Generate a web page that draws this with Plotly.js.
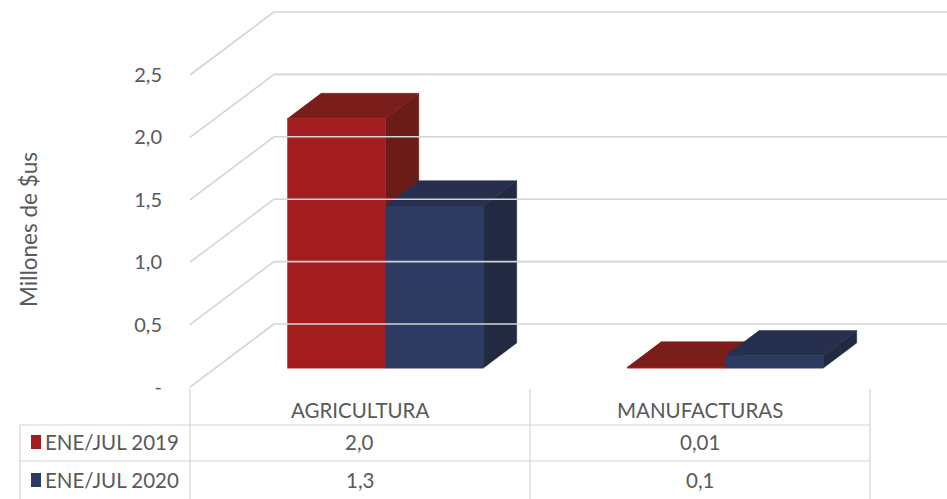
<!DOCTYPE html>
<html>
<head>
<meta charset="utf-8">
<script src="https://cdn.plot.ly/plotly-3.0.1.min.js"></script>
<style>html,body{margin:0;padding:0;background:#fff;}#chart{width:947px;height:499px;}</style>
</head>
<body>
<div id="chart"></div>
<script>
// ---- data ----
const categories = ['AGRICULTURA', 'MANUFACTURAS'];
const seriesNames = ['ENE/JUL 2019', 'ENE/JUL 2020'];
const values2019 = [2.0, 0.01];
const values2020 = [1.3, 0.1];
const labels2019 = ['2,0', '0,01'];
const labels2020 = ['1,3', '0,1'];
const yTickVals = [0, 0.5, 1.0, 1.5, 2.0, 2.5];
const yTickText = ['-', '0,5', '1,0', '1,5', '2,0', '2,5'];
const yTitle = 'Millones de $us';

// ---- style ----
const W = 947, H = 499;
const FONT = 'Lato, "Open Sans", sans-serif';
const TXT = '#595959';
const GRID = '#d4d4d4';
const colors = {
  front: ['#a31c20', '#2d3a62'],
  top:   ['#7b1d1a', '#262f4d'],
  side:  ['#6b1c18', '#222a42']
};
const XMIN = -1.0588, XMAX = 1.7265;   // axis range
const YMIN = -0.897, YMAX = 3.101;
const DX = 0.247, DY = 0.505;          // oblique depth offset (full depth)
const BW = 0.288;                      // bar width in category units
const D0 = 0.3, D1 = 0.7;              // bar depth span
const series = [values2019, values2020];
const seriesLabels = [labels2019, labels2020];

function P(x, y, d) { return [x + d * DX, y + d * DY]; }

function faces(s, kind) {
  const xs = [], ys = [];
  categories.forEach((c, i) => {
    const v = series[s][i];
    const xl = i - BW + s * BW, xr = xl + BW;
    let pts;
    if (kind === 'front') pts = [P(xl,0,D0), P(xr,0,D0), P(xr,v,D0), P(xl,v,D0)];
    else if (kind === 'top') pts = [P(xl,v,D0), P(xr,v,D0), P(xr,v,D1), P(xl,v,D1)];
    else pts = [P(xr,0,D0), P(xr,0,D1), P(xr,v,D1), P(xr,v,D0)];
    pts.forEach(p => { xs.push(p[0]); ys.push(p[1]); });
    xs.push(null); ys.push(null);
  });
  return {
    type: 'scatter', mode: 'lines', x: xs, y: ys, fill: 'toself',
    fillcolor: colors[kind][s], line: { color: colors[kind][s], width: 0.5 },
    hoverinfo: 'skip', showlegend: false, name: seriesNames[s]
  };
}

const traces = [];
[0, 1].forEach(s => { ['side', 'top', 'front'].forEach(k => traces.push(faces(s, k))); });

const shapes = [];
// walls / gridlines
const xf = -0.5;
yTickVals.forEach(t => {
  const a = P(xf, t, 0), b = P(xf, t, 1);
  shapes.push({ type: 'line', xref: 'x', yref: 'y', x0: a[0], y0: a[1], x1: b[0], y1: b[1], line: { color: GRID, width: 1.6 } });
  shapes.push({ type: 'line', xref: 'x', yref: 'y', x0: b[0], y0: b[1], x1: XMAX, y1: b[1], line: { color: GRID, width: 1.6 } });
});

// data table
const py = p => 1 - p / H;        // pixel row -> paper
const rowTop = 425, row2 = 461, tableLeft = 20;
const tableX = [xf, xf + 1, xf + 2];
tableX.forEach(x => shapes.push({ type: 'line', xref: 'x', yref: 'paper', x0: x, x1: x, y0: py(389), y1: py(H), line: { color: GRID, width: 1.2 } }));
shapes.push({ type: 'line', xref: 'paper', yref: 'paper', x0: tableLeft / W, x1: tableLeft / W, y0: py(rowTop), y1: py(H), line: { color: GRID, width: 1.2 } });
[rowTop, row2].forEach(r => shapes.push({ type: 'line', xref: 'paper', yref: 'paper', x0: tableLeft / W, x1: (190 + 2 * 340) / W, y0: py(r), y1: py(r), line: { color: GRID, width: 1.2 } }));

const TF = 20.5;
const annotations = [];
annotations.push({ xref: 'paper', yref: 'paper', x: 28 / W, y: py(230), textangle: -90, xanchor: 'center', yanchor: 'middle', text: yTitle, showarrow: false, font: { family: FONT, size: 22.5, color: TXT } });
categories.forEach((c, i) => annotations.push({ xref: 'x', yref: 'paper', x: i, y: py(410), yanchor: 'middle', text: c, showarrow: false, font: { family: FONT, size: TF, color: TXT } }));
const rowY = [442, 480];
seriesNames.forEach((n, s) => {
  shapes.push({ type: 'rect', xref: 'paper', yref: 'paper', x0: 31 / W, x1: 41 / W, y0: py(rowY[s] + 7), y1: py(rowY[s] - 7), fillcolor: colors.front[s], line: { width: 0 } });
  annotations.push({ xref: 'paper', yref: 'paper', x: 43 / W, y: py(rowY[s]), xanchor: 'left', yanchor: 'middle', text: n, showarrow: false, font: { family: FONT, size: TF, color: TXT } });
  categories.forEach((c, i) => annotations.push({ xref: 'x', yref: 'paper', x: i, y: py(rowY[s]), yanchor: 'middle', text: seriesLabels[s][i], showarrow: false, font: { family: FONT, size: TF, color: TXT } }));
});

const layout = {
  width: W, height: H,
  margin: { l: 0, r: 0, t: 0, b: 0 },
  paper_bgcolor: '#fff', plot_bgcolor: '#fff',
  showlegend: false,
  xaxis: { range: [XMIN, XMAX], showgrid: false, zeroline: false, showline: false, showticklabels: false, ticks: '', fixedrange: true },
  yaxis: {
    range: [YMIN, YMAX], anchor: 'free', position: 188 / W,
    tickvals: yTickVals, ticktext: yTickText,
    ticks: 'outside', ticklen: 22, tickcolor: 'rgba(0,0,0,0)',
    showgrid: false, zeroline: false, showline: false,
    tickfont: { family: FONT, size: 20, color: TXT },
    fixedrange: true
  },
  shapes: shapes,
  annotations: annotations
};

Plotly.newPlot('chart', traces, layout, { displayModeBar: false, staticPlot: true });
</script>
</body>
</html>
